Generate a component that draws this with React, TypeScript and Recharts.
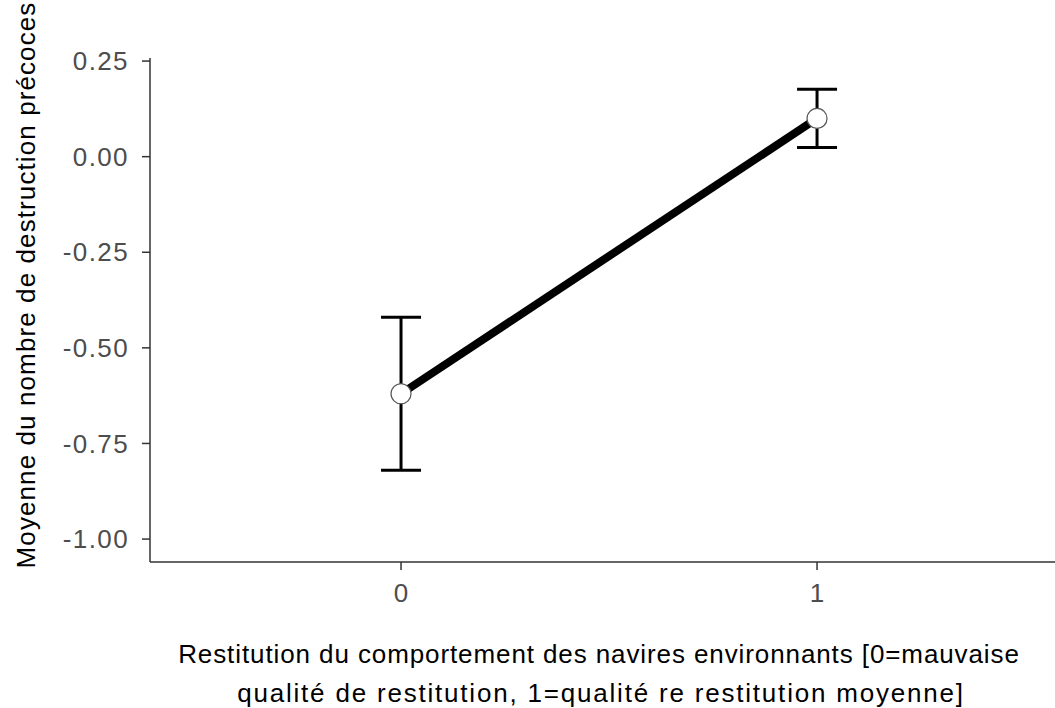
import { ComposedChart, Line, XAxis, YAxis, ErrorBar, Label } from 'recharts'

const categories = [0, 1]
const means = [-0.62, 0.1]
const errors = [0.2, 0.076]
const yTicks = [-1.0, -0.75, -0.5, -0.25, 0.0, 0.25]

const data = categories.map((c, i) => ({ x: c, y: means[i], err: errors[i] }))

const font = '"Liberation Sans", Arial, sans-serif'

function Dot(props: any) {
  const { cx, cy } = props
  return <circle cx={cx} cy={cy} r={10} fill="#fff" stroke="#555" strokeWidth={1.2} />
}

function XTitle() {
  return (
    <text textAnchor="middle" fontFamily={font} fontSize={26} fill="#000">
      <tspan x={599} y={663} letterSpacing={0.9}>
        Restitution du comportement des navires environnants [0=mauvaise
      </tspan>
      <tspan x={601} y={702} letterSpacing={1.8}>
        qualité de restitution, 1=qualité re restitution moyenne]
      </tspan>
    </text>
  )
}

function YTitle() {
  return (
    <text
      transform="translate(35, 285) rotate(-90)"
      textAnchor="middle"
      fontFamily={font}
      fontSize={26}
      letterSpacing={1.1}
      fill="#000"
    >
      Moyenne du nombre de destruction précoces
    </text>
  )
}

export default function App() {
  return (
    <div style={{ position: 'absolute', left: 0, top: 0, background: '#fff' }}>
      <ComposedChart width={1055} height={708} data={data} margin={{ top: 58, right: 0, bottom: 0, left: 0 }}>
        <XAxis
          type="number"
          dataKey="x"
          domain={[-0.6034, 1.572]}
          ticks={categories}
          tickFormatter={(v) => String(v)}
          axisLine={{ stroke: '#333', strokeWidth: 1.5 }}
          tickLine={{ stroke: '#333', strokeWidth: 1.5 }}
          tickSize={8}
          tickMargin={14}
          tick={{ fill: '#4d4d4d', fontSize: 26, fontFamily: font }}
          height={146}
        >
          <Label content={<XTitle />} />
        </XAxis>
        <YAxis
          type="number"
          domain={[-1.06, 0.258]}
          ticks={yTicks}
          allowDataOverflow
          tickFormatter={(v) => v.toFixed(2)}
          axisLine={{ stroke: '#333', strokeWidth: 1.5 }}
          tickLine={{ stroke: '#333', strokeWidth: 1.5 }}
          tickSize={8}
          tickMargin={13}
          tick={{ fill: '#4d4d4d', fontSize: 26, fontFamily: font, letterSpacing: 1.4 }}
          width={150}
        >
          <Label content={<YTitle />} />
        </YAxis>
        <Line
          dataKey="y"
          stroke="#000"
          strokeWidth={8}
          dot={<Dot />}
          activeDot={false}
          isAnimationActive={false}
        >
          <ErrorBar dataKey="err" direction="y" width={20} stroke="#000" strokeWidth={3} />
        </Line>
      </ComposedChart>
    </div>
  )
}
